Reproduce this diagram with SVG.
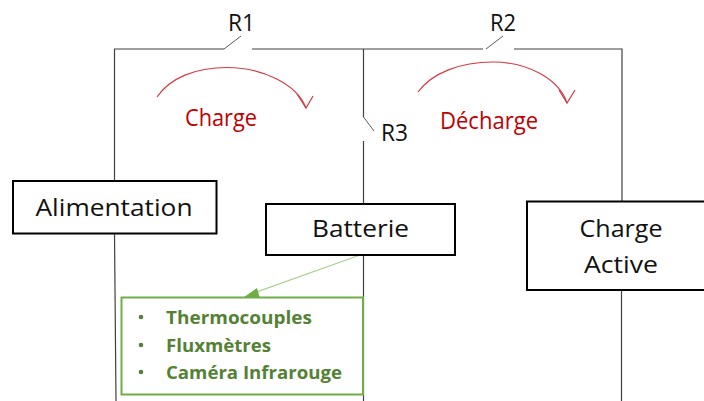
<svg xmlns="http://www.w3.org/2000/svg" width="704" height="401" viewBox="0 0 704 401">
<style>
text{font-family:"Open Sans","Noto Sans",sans-serif}
.wire{fill:none;stroke:#404040;stroke-width:1.2}
.sw{fill:none;stroke:#595959;stroke-width:1}
.box{fill:#fff;stroke:#000;stroke-width:2}
.lbl{font-size:24.500px;fill:#111}
.red{font-size:23px;fill:#c00000}
.arc{fill:none;stroke:#d23a44;stroke-width:1.200}
.grn{font-size:18.500px;font-weight:700;fill:#548235}
.dot{fill:#548235}
</style>
<g id="connectors">
<path class="wire" d="M114.500 181V49H224M252 49H483M514 49H622V202"/>
<path class="wire" d="M363.500 49V117M363.500 141V203M363.500 255V401"/>
<path class="wire" d="M114.500 233L116 401M621.500 290V401"/>
<path class="sw" d="M224 49L241 36M486 49L503 36M363.500 117L374 131"/>
<path class="arc" d="M157 97C170 78 195 67.500 227 67.500C262 67.500 297 84 306 108"/>
<path class="arc" d="M297 94L306 108L313 96"/>
<path class="arc" d="M418 92C432 73 460 62 493 62C528 62 559 79 567 103"/>
<path class="arc" d="M559 90L567 103L575 90"/>
<path fill="none" stroke="#a9d18e" stroke-width="1.200" d="M360 255L254 293"/>
<path fill="#70ad47" d="M243.500 297.500L257 288L260 298.500Z"/>
</g>
<g id="alimentation"><rect class="box" x="13" y="181" width="203.500" height="52.500"/><text class="lbl" x="114" y="216" text-anchor="middle" textLength="157" lengthAdjust="spacingAndGlyphs">Alimentation</text></g>
<g id="batterie"><rect class="box" x="266" y="204" width="189" height="51"/><text class="lbl" x="360.500" y="237" text-anchor="middle" textLength="97" lengthAdjust="spacingAndGlyphs">Batterie</text></g>
<g id="charge-active"><rect class="box" x="527" y="201.500" width="190" height="88.500"/><text class="lbl" x="621" y="237" text-anchor="middle" textLength="83" lengthAdjust="spacingAndGlyphs">Charge</text><text class="lbl" x="621" y="273" text-anchor="middle" textLength="74" lengthAdjust="spacingAndGlyphs">Active</text></g>
<g id="capteurs"><rect x="121.500" y="297.500" width="241.500" height="97" fill="#fff" stroke="#70ad47" stroke-width="2"/>
<circle class="dot" cx="141" cy="317" r="2.300"/><circle class="dot" cx="141" cy="345" r="2.300"/><circle class="dot" cx="141" cy="372" r="2.300"/>
<text class="grn" x="166" y="324" textLength="146" lengthAdjust="spacingAndGlyphs">Thermocouples</text>
<text class="grn" x="166" y="352" textLength="105" lengthAdjust="spacingAndGlyphs">Fluxmètres</text>
<text class="grn" x="166" y="379" textLength="176" lengthAdjust="spacingAndGlyphs">Caméra Infrarouge</text></g>
<g id="labels">
<text class="lbl" x="228" y="31" textLength="27" lengthAdjust="spacingAndGlyphs">R1</text>
<text class="lbl" x="490" y="31" textLength="26" lengthAdjust="spacingAndGlyphs">R2</text>
<text class="lbl" x="381" y="141" textLength="27" lengthAdjust="spacingAndGlyphs">R3</text>
<text class="red" x="185" y="126" textLength="72" lengthAdjust="spacingAndGlyphs">Charge</text>
<text class="red" x="440" y="129" textLength="98" lengthAdjust="spacingAndGlyphs">Décharge</text>
</g>
</svg>
